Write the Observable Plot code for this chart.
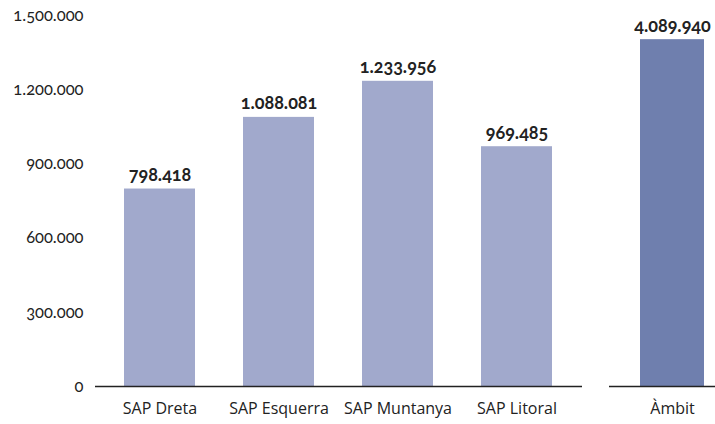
<!DOCTYPE html>
<html><head><meta charset="utf-8">
<script src="https://cdn.jsdelivr.net/npm/d3@7"></script>
<script src="https://cdn.jsdelivr.net/npm/@observablehq/plot@0.6"></script>
<style>
body{margin:0;background:#fff;}
#wrap{display:flex;flex-direction:row;}
.vals{font-variant-numeric:oldstyle-nums;}
</style>
</head><body><div id="wrap"></div>
<script>
const sapCategories = ["SAP Dreta","SAP Esquerra","SAP Muntanya","SAP Litoral"];
const sapValues = [798418, 1088081, 1233956, 969485];
const totalCategory = "Àmbit";
const totalValue = 4089940;
const yTicks = [0, 300000, 600000, 900000, 1200000, 1500000];

const fmt = d3.formatLocale({decimal:",", thousands:".", grouping:[3], currency:["","€"]}).format(",d");
const sapData = sapCategories.map((c,i)=>({cat:c, value:sapValues[i]}));
const totalData = [{cat:totalCategory, value:totalValue}];

const H = 424, MT = 15, MB = 38;
const numFont = "Lato, 'Open Sans', sans-serif";

const left = Plot.plot({
  width: 582, height: H,
  marginLeft: 95, marginRight: 0, marginTop: MT, marginBottom: MB,
  style: {fontFamily: "'Open Sans', sans-serif", fontSize: "16px", color: "#222", background: "#fff"},
  x: {domain: sapCategories, paddingInner: 0.4, paddingOuter: 0.23, label: null, tickSize: 0, tickPadding: 16},
  y: {domain: [0, 1500000], label: null, ticks: yTicks, tickFormat: fmt, tickSize: 0, tickPadding: 12},
  marks: [
    Plot.barY(sapData, {x: "cat", y: "value", fill: "#a1a9cc"}),
    Plot.ruleY([0], {stroke: "#222", strokeWidth: 1.3}),
    Plot.text(sapData, {x: "cat", y: "value", text: d => fmt(d.value), lineAnchor: "bottom", dy: -8,
      fontWeight: "bold", fontSize: 18, fill: "#222", fontFamily: numFont, className: "vals"})
  ]
});
left.querySelectorAll("[aria-label='y-axis tick label'] text").forEach(t=>{t.style.fontFamily=numFont;t.style.fontSize="16.5px";t.style.fontVariantNumeric="oldstyle-nums";});

const right = Plot.plot({
  width: 133, height: H,
  marginLeft: 27, marginRight: 0, marginTop: MT, marginBottom: MB,
  style: {fontFamily: "'Open Sans', sans-serif", fontSize: "16px", color: "#222", background: "#fff"},
  x: {domain: [totalCategory], paddingInner: 0.4, paddingOuter: 0.1417, align: 0.735, label: null, tickSize: 0, tickPadding: 16},
  y: {domain: [0, 4375000], axis: null},
  marks: [
    Plot.barY(totalData, {x: "cat", y: "value", fill: "#6f7fae"}),
    Plot.ruleY([0], {stroke: "#222", strokeWidth: 1.3}),
    Plot.text(totalData, {x: "cat", y: "value", text: d => fmt(d.value), lineAnchor: "bottom", dy: -8,
      fontWeight: "bold", fontSize: 18, fill: "#222", fontFamily: numFont, className: "vals"})
  ]
});
document.getElementById("wrap").append(left, right);
</script>
</body></html>
